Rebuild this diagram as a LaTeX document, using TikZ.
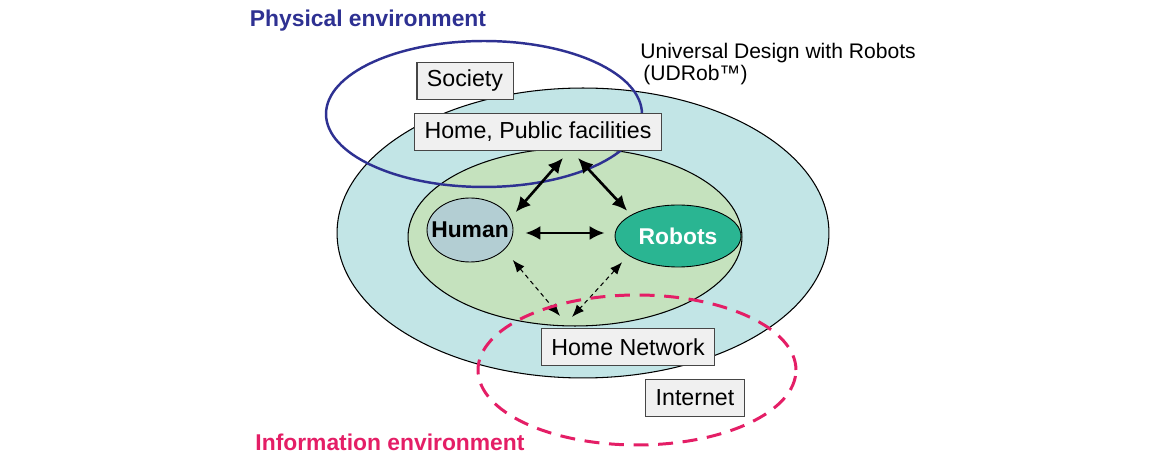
\documentclass[tikz,border=0pt]{standalone}
\usepackage{fontspec}
\setmainfont{Liberation Sans}
\usepackage{tikz}
\usetikzlibrary{arrows.meta,shapes.geometric,calc}

\definecolor{physblue}{RGB}{46,49,146}
\definecolor{infored}{RGB}{228,30,102}
\definecolor{udcyan}{RGB}{194,229,230}
\definecolor{udgreen}{RGB}{197,226,190}
\definecolor{humanfill}{RGB}{179,206,211}
\definecolor{robotfill}{RGB}{42,181,146}
\definecolor{boxfill}{RGB}{240,240,240}
\definecolor{boxline}{RGB}{70,70,70}

\begin{document}
\begin{tikzpicture}[x=0.02cm,y=-0.02cm]
      \tikzstyle{box}=[draw=boxline,fill=boxfill,line width=0.6pt,inner xsep=0.2cm,minimum height=0.74cm,font=\fontsize{13.2}{15}\selectfont]
      \tikzstyle{agent}=[draw=black,ellipse,inner sep=0pt,line width=0.5pt,font=\fontsize{13}{15}\selectfont\bfseries]
      \tikzstyle{title}=[font=\fontsize{13}{15}\selectfont\bfseries]
      \tikzstyle{solidarr}=[{Latex[length=8.5pt,width=8pt]}-{Latex[length=8.5pt,width=8pt]},line width=1.5pt]
      \tikzstyle{dasharr}=[{Latex[length=7pt,width=5.5pt]}-{Latex[length=7pt,width=5.5pt]},line width=0.6pt,dash pattern=on 2.5pt off 2pt]

      \useasboundingbox (0,0) rectangle (1150,455);

      % society and home regions
      \filldraw[fill=udcyan,line width=0.6pt] (583,233) ellipse [x radius=4.92cm,y radius=2.9cm];
      \filldraw[fill=udgreen,line width=0.6pt] (575,237) ellipse [x radius=3.34cm,y radius=1.78cm];

      % physical environment
      \draw[physblue,line width=1.4pt] (484,114) ellipse [x radius=3.16cm,y radius=1.46cm];

      \node[box] (society) at (465,81) {Society};
      \node[box] (pub) at (538,132) {Home, Public facilities};
      \node[box] (homenet) at (628,347) {Home Network};
      \node[box] (internet) at (695,398) {Internet};

      \node[agent,fill=humanfill,minimum width=1.72cm,minimum height=1.28cm] (human) at (470,230) {\makebox[0pt]{Human}};
      \node[agent,fill=robotfill,text=white,minimum width=2.52cm,minimum height=1.24cm] (robots) at (678,236) {\makebox[0pt]{Robots}};

      \draw[solidarr] ($(pub.south)+(25,7)$) -- ($(human.north east)+(15,5)$);
      \draw[solidarr] ($(pub.south)+(40,7)$) -- ($(robots.north west)+(-6,-3)$);
      \draw[solidarr] ($(human.east)+(12,3)$) -- ($(robots.west)+(-10,-3)$);

      \draw[dasharr] ($(human.south east)+(12,7)$) -- ($(homenet.north)+(-68,-12)$);
      \draw[dasharr] ($(robots.south west)+(-11,4)$) -- ($(homenet.north)+(-56,-11)$);

      % information environment
      \draw[infored,line width=1.7pt,dash pattern=on 8.5pt off 5.5pt] (637,370) ellipse [x radius=3.18cm,y radius=1.5cm];

      \node[title,text=physblue] (phys) at (368,21) {Physical environment};
      \node[title,text=infored] (info) at (390,442) {Information environment};
      \node[anchor=west,align=left,inner sep=0pt,font=\fontsize{12}{13}\selectfont] (udrob) at (640,64) {Universal Design with Robots\\\hspace*{0.06cm}(UDRob™)};

\end{tikzpicture}
\end{document}
